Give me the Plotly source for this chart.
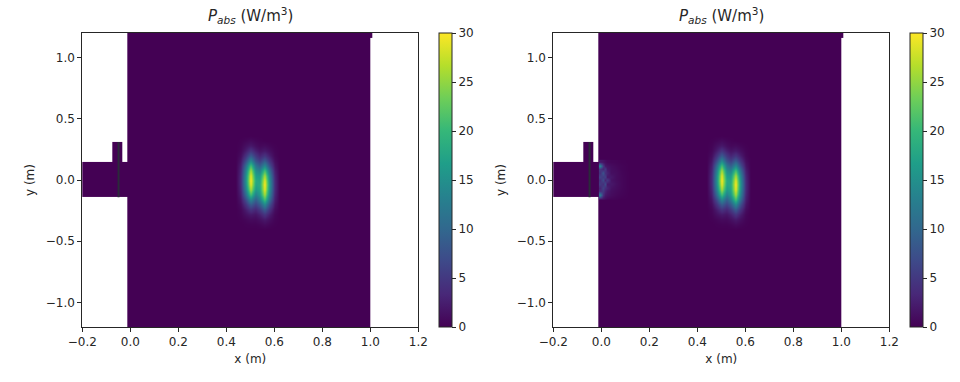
import math
import plotly.graph_objects as go

NAN = math.nan

# ---------------- data ----------------
# domain as cells: x/y cell edges (m); 0 = inside the simulation domain, NaN = outside
domain_x_edges = [-0.25, -0.074, -0.032, -0.0125, 1.0, 1.01]
domain_y_edges = [-1.25, -0.14, 0.15, 0.31, 1.16, 1.25]
domain_z = [
    [NAN, NAN, NAN, 0, NAN],
    [0, 0, 0, 0, NAN],
    [NAN, 0, NAN, 0, NAN],
    [NAN, NAN, NAN, 0, NAN],
    [NAN, NAN, NAN, 0, 0],
]
# dark internal boundary line in the waveguide stub
stub_line_x = [-0.049, -0.049]
stub_line_y = [0.31, -0.14]

# absorbed power around the plasma (W/m^3)
blob_x = [0.44, 0.46, 0.48, 0.50, 0.52, 0.54, 0.56, 0.58, 0.60, 0.62]
blob_y = [-0.40, -0.36, -0.32, -0.28, -0.24, -0.20, -0.16, -0.12, -0.08, -0.04,
          0.00, 0.04, 0.08, 0.12, 0.16, 0.20, 0.24, 0.28, 0.32, 0.36]
blob_z = [
    [0, 0, 0, 0, 0, 0, 0, 0, 0, 0],
    [0, 0, 0.1, 0.2, 0.2, 0.4, 0.8, 0.4, 0.1, 0],
    [0, 0.1, 0.4, 0.8, 0.7, 1.2, 2, 1.1, 0.3, 0],
    [0, 0.3, 1.2, 2, 1.6, 2.6, 4.5, 2.3, 0.5, 0],
    [0, 0.5, 2.3, 4.5, 3.2, 5, 8.5, 4.3, 1, 0],
    [0, 1, 4.3, 8.5, 6, 8.5, 14, 7, 1.7, 0],
    [0, 1.7, 7, 14, 9, 12.5, 21, 10.5, 2.5, 0],
    [0, 2.5, 10.5, 21, 13, 16, 26, 13, 3.1, 0],
    [0, 3.1, 13, 26, 16, 17.5, 29, 14.5, 3.5, 0],
    [0, 3.5, 14.5, 29, 17.5, 18, 30, 15, 3.6, 0],
    [0, 3.6, 15, 30, 18, 17.5, 29, 14.5, 3.5, 0],
    [0, 3.5, 14.5, 29, 16.5, 16, 26, 13, 3.1, 0],
    [0, 3.1, 13, 26, 14.5, 13, 21, 10.5, 2.5, 0],
    [0, 2.5, 10.5, 21, 11.5, 9, 14, 7, 1.7, 0],
    [0, 1.7, 7, 14, 7.5, 5.5, 8.5, 4.3, 1, 0],
    [0, 1, 4.3, 8.5, 4.8, 3, 4.5, 2.3, 0.5, 0],
    [0, 0.5, 2.3, 4.5, 2.5, 1.5, 2, 1.1, 0.3, 0],
    [0, 0.3, 1.2, 2, 1.1, 0.6, 0.8, 0.4, 0.1, 0],
    [0, 0.1, 0.4, 0.8, 0.4, 0.2, 0, 0, 0, 0],
    [0, 0, 0, 0, 0, 0, 0, 0, 0, 0],
]

# right case: speckle near the waveguide inlet
inlet_x = [-0.005, 0.005, 0.015, 0.025, 0.04, 0.06, 0.085, 0.12]
inlet_y = [-0.15, -0.12, -0.09, -0.06, -0.03, 0.0, 0.03, 0.06, 0.09, 0.12, 0.15]
inlet_z = [
    [2, 1.5, 1, 0.6, 0.4, 0.3, 0.1, 0],
    [13, 4, 2, 1.5, 1, 0.6, 0.3, 0],
    [4, 5, 3, 2, 1.2, 0.8, 0.4, 0],
    [3, 6, 4, 3, 1.5, 1, 0.5, 0],
    [5, 4, 7, 2, 2, 1.2, 0.5, 0],
    [4, 7, 3, 5, 1.5, 1, 0.5, 0],
    [6, 5, 6, 2, 2, 1, 0.5, 0],
    [4, 8, 4, 3, 1.2, 1, 0.4, 0],
    [5, 3, 5, 2, 1.2, 0.8, 0.3, 0],
    [14, 5, 2, 1.5, 1, 0.6, 0.3, 0],
    [2, 1.5, 1, 0.6, 0.4, 0.3, 0.1, 0],
]

x_ticks = [-0.2, 0.0, 0.2, 0.4, 0.6, 0.8, 1.0, 1.2]
x_tick_text = ["\u22120.2", "0.0", "0.2", "0.4", "0.6", "0.8", "1.0", "1.2"]
y_ticks = [-1.0, -0.5, 0.0, 0.5, 1.0]
y_tick_text = ["\u22121.0", "\u22120.5", "0.0", "0.5", "1.0"]
cbar_ticks = [0, 5, 10, 15, 20, 25, 30]
title_text = "<i>P</i><sub><i>abs</i></sub> (W/m<sup>3</sup>)"

# ---------------- figure ----------------
W, H = 960, 382
FONT = "DejaVu Sans"
TXT = "#262626"
fig = go.Figure()

panels = [
    dict(xa="x", ya="y", xd=(82.3, 418.3), cb=439, inlet=False),
    dict(xa="x2", ya="y2", xd=(553.3, 889.3), cb=910, inlet=True),
]
y_top, y_bot = 33, 327

for p in panels:
    fig.add_trace(go.Heatmap(x=domain_x_edges, y=domain_y_edges, z=domain_z,
                             colorscale="Viridis", zmin=0, zmax=30, showscale=False,
                             xaxis=p["xa"], yaxis=p["ya"], hoverinfo="skip"))
    if p["inlet"]:
        fig.add_trace(go.Heatmap(x=inlet_x, y=inlet_y, z=inlet_z, colorscale="Viridis",
                                 zmin=0, zmax=30, zsmooth="best", showscale=False,
                                 xaxis=p["xa"], yaxis=p["ya"]))
    fig.add_trace(go.Heatmap(
        x=blob_x, y=blob_y, z=blob_z, colorscale="Viridis", zmin=0, zmax=30,
        zsmooth="best", xaxis=p["xa"], yaxis=p["ya"],
        colorbar=dict(x=p["cb"] / W, xanchor="left", y=1 - (y_top + y_bot) / 2 / H,
                      yanchor="middle", len=(y_bot - y_top) / H, lenmode="fraction",
                      thickness=13, outlinewidth=1, outlinecolor=TXT,
                      tickvals=cbar_ticks, ticks="outside", ticklen=4, tickcolor=TXT,
                      tickfont=dict(family=FONT, size=12, color=TXT), xpad=0, ypad=0)))
    fig.add_trace(go.Scatter(x=stub_line_x, y=stub_line_y, mode="lines",
                             line=dict(color="#2b2b3a", width=2),
                             xaxis=p["xa"], yaxis=p["ya"], showlegend=False, hoverinfo="skip"))

axis_common = dict(showline=True, mirror=True, linecolor=TXT, linewidth=1,
                   ticks="outside", ticklen=4, tickcolor=TXT, showgrid=False,
                   zeroline=False, tickfont=dict(family=FONT, size=12, color=TXT))

layout_axes = {}
for i, p in enumerate(panels):
    sfx = "" if i == 0 else "2"
    layout_axes["xaxis" + sfx] = dict(axis_common, domain=[p["xd"][0] / W, p["xd"][1] / W],
                                      range=[-0.2, 1.2], tickvals=x_ticks, ticktext=x_tick_text,
                                      anchor="y" + sfx,
                                      title=dict(text="x (m)", font=dict(family=FONT, size=12, color=TXT), standoff=6))
    layout_axes["yaxis" + sfx] = dict(axis_common, domain=[1 - y_bot / H, 1 - y_top / H],
                                      range=[-1.2, 1.2], tickvals=y_ticks, ticktext=y_tick_text,
                                      anchor="x" + sfx,
                                      title=dict(text="y (m)", font=dict(family=FONT, size=12, color=TXT), standoff=8))

annotations = []
for p in panels:
    annotations.append(dict(text=title_text, x=(p["xd"][0] + p["xd"][1]) / 2 / W, y=1 - 28 / H,
                            xref="paper", yref="paper", xanchor="center", yanchor="bottom",
                            showarrow=False, font=dict(family=FONT, size=15, color=TXT)))

fig.update_layout(width=W, height=H, margin=dict(l=0, r=0, t=0, b=0, autoexpand=False),
                  paper_bgcolor="white", plot_bgcolor="white",
                  font=dict(family=FONT, size=12, color=TXT),
                  annotations=annotations, showlegend=False, **layout_axes)

fig.write_html("out.html", config={"displayModeBar": False},
               post_script="document.body.style.margin='0px';")
